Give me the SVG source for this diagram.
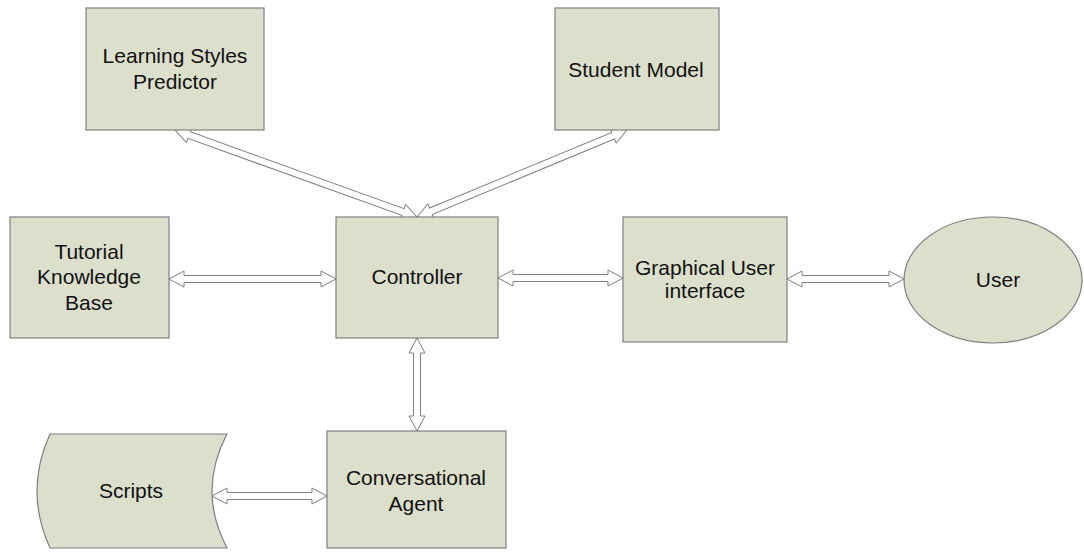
<svg xmlns="http://www.w3.org/2000/svg" width="1084" height="552" viewBox="0 0 1084 552">
<style>
.box{fill:#dcdfcc;stroke:#7f7f7f;stroke-width:1.2}
.arr{fill:#ffffff;stroke:#808080;stroke-width:1}
text{font-family:"Liberation Sans",Arial,sans-serif;font-size:21px;fill:#111;text-anchor:middle}
</style>
<rect width="1084" height="552" fill="#ffffff"/>
<g id="connectors">
<path class="arr" transform="translate(169,279)" d="M0,0 L15,-8 L15,-3.5 L152,-3.5 L152,-8 L167,0 L152,8 L152,3.5 L15,3.5 L15,8 Z"/>
<path class="arr" transform="translate(498,278)" d="M0,0 L15,-8 L15,-3.5 L110,-3.5 L110,-8 L125,0 L110,8 L110,3.5 L15,3.5 L15,8 Z"/>
<path class="arr" transform="translate(787,279)" d="M0,0 L15,-8 L15,-3.5 L102,-3.5 L102,-8 L117,0 L102,8 L102,3.5 L15,3.5 L15,8 Z"/>
<path class="arr" transform="translate(417,338) rotate(90)" d="M0,0 L15,-8 L15,-3.5 L78,-3.5 L78,-8 L93,0 L78,8 L78,3.5 L15,3.5 L15,8 Z"/>
<path class="arr" transform="translate(212,496)" d="M0,0 L15,-8 L15,-3.5 L100,-3.5 L100,-8 L115,0 L100,8 L100,3.5 L15,3.5 L15,8 Z"/>
<path class="arr" transform="translate(175,130) rotate(19.78)" d="M0,0 L15,-8 L15,-3.5 L242.2,-3.5 L242.2,-8 L257.2,0 L242.2,8 L242.2,3.5 L15,3.5 L15,8 Z"/>
<path class="arr" transform="translate(417,217) rotate(-22.5)" d="M0,0 L15,-8 L15,-3.5 L212.3,-3.5 L212.3,-8 L227.3,0 L212.3,8 L212.3,3.5 L15,3.5 L15,8 Z"/>
</g>
<g id="learning-styles-predictor">
<rect class="box" x="86" y="8" width="178" height="122"/>
<text x="175" y="63">Learning Styles</text>
<text x="175" y="89">Predictor</text>
</g>
<g id="student-model">
<rect class="box" x="555" y="8" width="164" height="122"/>
<text x="636" y="77">Student Model</text>
</g>
<g id="tutorial-knowledge-base">
<rect class="box" x="10" y="217" width="159" height="121"/>
<text x="89" y="259">Tutorial</text>
<text x="89" y="284">Knowledge</text>
<text x="89" y="310">Base</text>
</g>
<g id="controller">
<rect class="box" x="336" y="217" width="162" height="121"/>
<text x="417" y="284">Controller</text>
</g>
<g id="graphical-user-interface">
<rect class="box" x="623" y="217" width="164" height="125"/>
<text x="705" y="275">Graphical User</text>
<text x="705" y="298">interface</text>
</g>
<g id="user">
<ellipse class="box" cx="993" cy="280" rx="89" ry="63"/>
<text x="998" y="287">User</text>
</g>
<g id="scripts">
<path class="box" d="M50,434 L227,434 Q197,491 227,548 L50,548 Q24,491 50,434 Z"/>
<text x="131" y="498">Scripts</text>
</g>
<g id="conversational-agent">
<rect class="box" x="327" y="431" width="179" height="117"/>
<text x="416" y="485">Conversational</text>
<text x="416" y="511">Agent</text>
</g>
</svg>
